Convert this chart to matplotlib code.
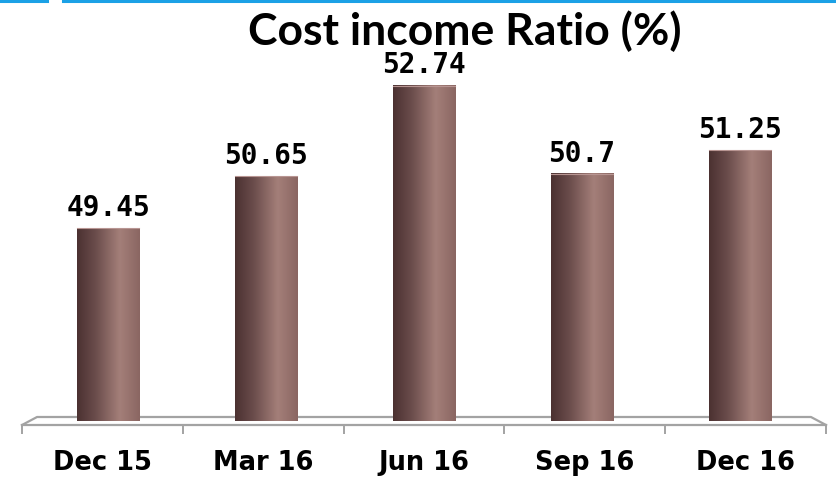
import numpy as np
import matplotlib
matplotlib.use("Agg")
import matplotlib.pyplot as plt
from matplotlib.colors import LinearSegmentedColormap
from matplotlib.lines import Line2D

# quarterly cost income ratio
quarters = ["Dec 15", "Mar 16", "Jun 16", "Sep 16", "Dec 16"]
ratios = [49.45, 50.65, 52.74, 50.7, 51.25]
labels = ["49.45", "50.65", "52.74", "50.7", "51.25"]

BASE = 45.0
BAR_W = 0.386
FLOOR = "#A3A3A3"
DEPTH = 0.0187  # inset of the floor's back edge (axes fraction)

# cylinder shading across each bar
shade = LinearSegmentedColormap.from_list(
    "cyl", [(0.0, "#4B3131"), (0.3, "#6B4D4C"), (0.68, "#A47F79"), (1.0, "#8A6662")])
grad = np.linspace(0, 1, 256).reshape(1, -1)

fig = plt.figure(figsize=(8.37, 4.8), dpi=100)
ax = fig.add_axes([22 / 837, 55 / 480, 804 / 837, 394 / 480])
n = len(quarters)
ax.set_xlim(-0.5, n - 0.5)
ax.set_ylim(44.91, 54.0)

# bars stand half way into the floor, so squeeze positions toward the middle
mid = (n - 1) / 2
squeeze = 1 - DEPTH
xpos = mid + (np.arange(n) - mid) * squeeze

for x, v, lab in zip(xpos, ratios, labels):
    ax.imshow(grad, cmap=shade, aspect="auto", interpolation="bicubic",
              extent=(x - BAR_W / 2, x + BAR_W / 2, BASE, v), zorder=3)
    ax.plot([x - BAR_W / 2, x + BAR_W / 2], [v, v], color="#B89592", lw=0.8, zorder=4)
    ax.annotate(lab, (x, v), xytext=(0, 4.5), textcoords="offset points",
                ha="center", va="bottom", fontsize=20, fontweight="bold",
                family="DejaVu Sans Mono", color="black")

# 3d floor outline
tr = ax.transAxes
ax.add_line(Line2D([0, 1], [0, 0], transform=tr, color=FLOOR, lw=1.6, clip_on=False, zorder=2))
ax.add_line(Line2D([0, DEPTH, 1 - DEPTH, 1], [0, 0.0203, 0.0203, 0], transform=tr,
                   color=FLOOR, lw=1.6, clip_on=False, zorder=2))

for s in ax.spines.values():
    s.set_visible(False)
ax.set_yticks([])
ax.set_xticks(np.arange(n + 1) - 0.5)
ax.set_xticklabels([])
ax.tick_params(axis="x", which="major", length=6.5, width=1.4, color=FLOOR, direction="out")
ax.set_xticks(np.arange(n), minor=True)
ax.set_xticklabels(quarters, minor=True, fontsize=18.5, fontweight="bold")
ax.tick_params(axis="x", which="minor", length=0, pad=18)

fig.text(465 / 837, 1 - 45 / 480, "Cost income Ratio (%)", ha="center", va="baseline",
         fontsize=32, fontweight="bold", family="Lato")

# blue rule along the top edge
fig.add_artist(Line2D([0, 47 / 837], [1 - 1.2 / 480] * 2, transform=fig.transFigure,
                      color="#1BA1E6", lw=2.2))
fig.add_artist(Line2D([63 / 837, 1], [1 - 1.2 / 480] * 2, transform=fig.transFigure,
                      color="#1BA1E6", lw=2.2))

fig.savefig("out.png", dpi=100)
